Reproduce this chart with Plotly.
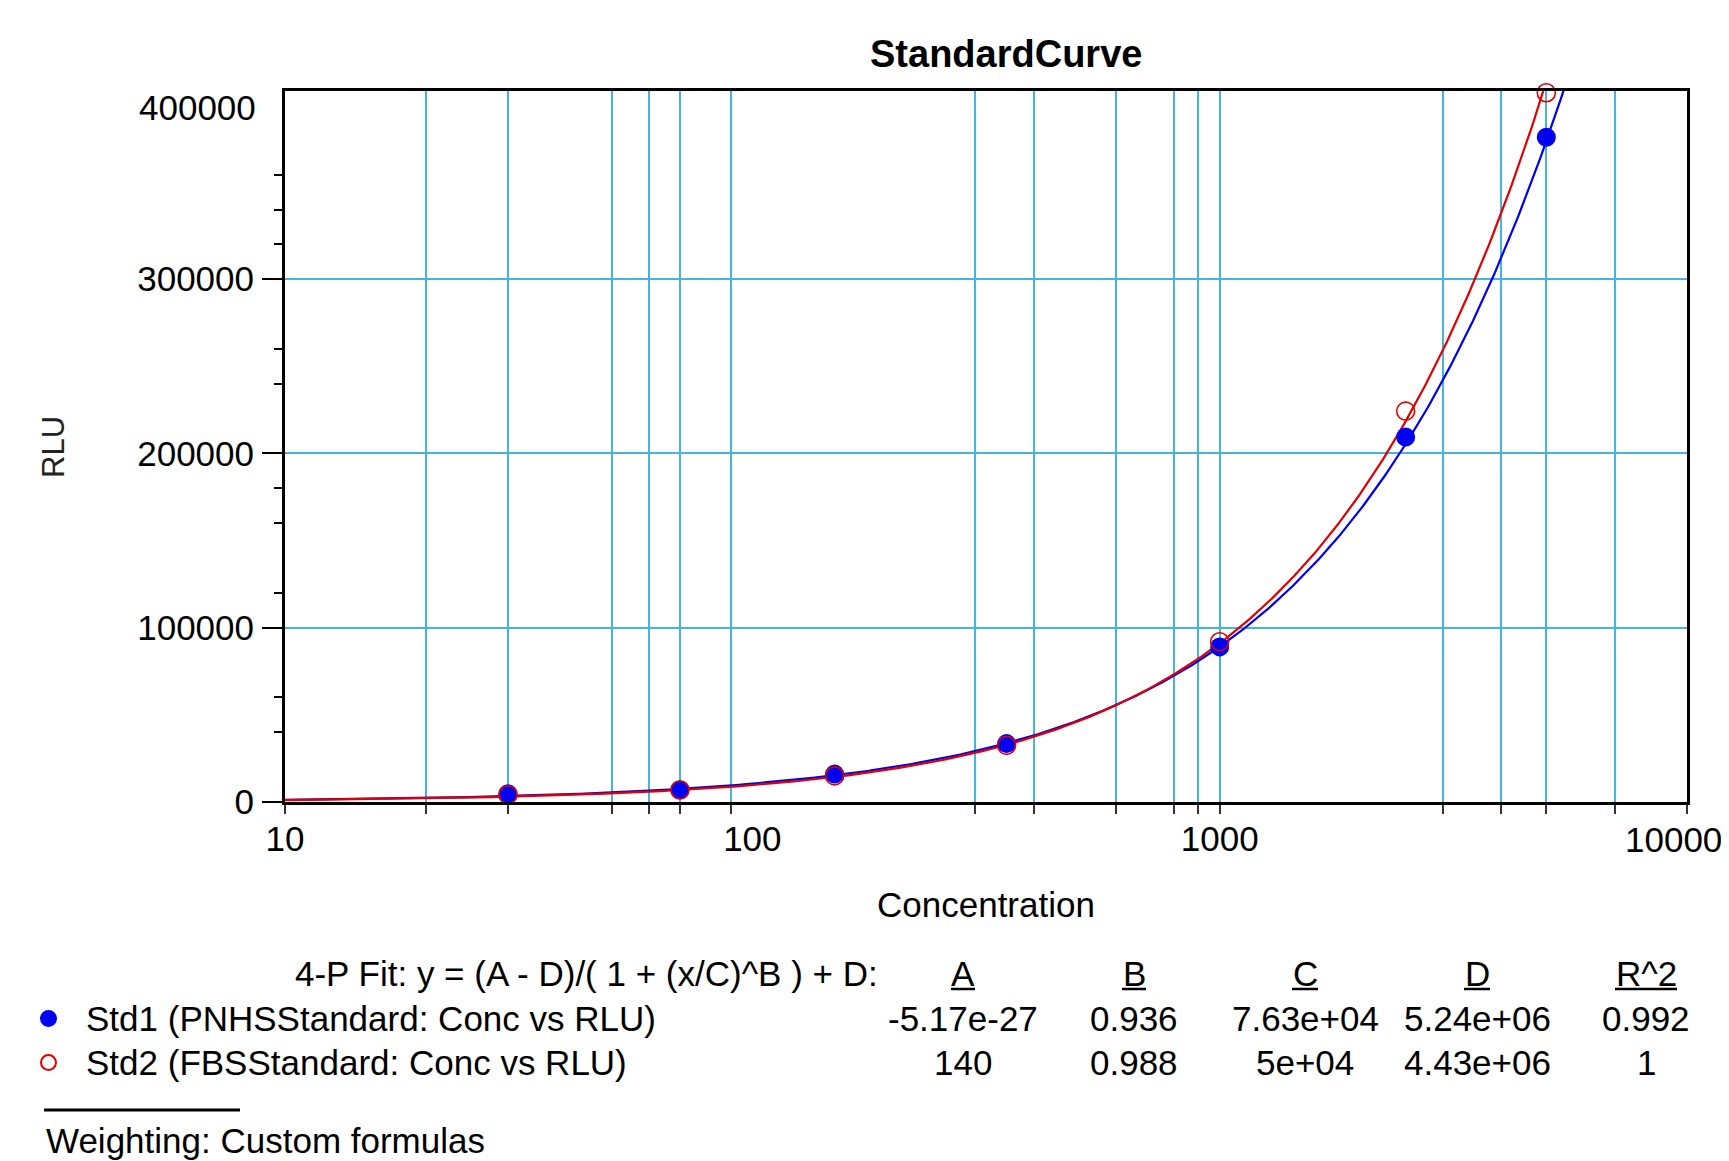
import numpy as np
import plotly.graph_objects as go

# ---------------- data ----------------
conc = [30, 70, 150, 350, 1000, 2500, 5000]
rlu_std1 = [4800, 7000, 16000, 33500, 89000, 209500, 381500]
rlu_std2 = [4200, 6900, 15000, 32500, 92000, 224300, 407000]

series_names = ["Std1 (PNHSStandard: Conc vs RLU)", "Std2 (FBSStandard: Conc vs RLU)"]

# 4-P fit parameters shown in the table
fit_A = [-5.17e-27, 140]
fit_B = [0.936, 0.988]
fit_C = [7.63e4, 5e4]
fit_D = [5.24e6, 4.43e6]
fit_R2 = [0.992, 1]

A_labels = ["-5.17e-27", "140"]
B_labels = ["0.936", "0.988"]
C_labels = ["7.63e+04", "5e+04"]
D_labels = ["5.24e+06", "4.43e+06"]
R2_labels = ["0.992", "1"]
header_labels = ["A", "B", "C", "D", "R^2"]
fit_formula = "4-P Fit: y = (A - D)/( 1 + (x/C)^B ) + D:"
weighting_text = "Weighting: Custom formulas"

x_major_ticks = [10, 100, 1000]
x_major_labels = ["10", "100", "1000"]
x_last_label = "10000"          # sits on the right window edge
x_grid_ticks = [10, 20, 30, 50, 60, 70, 90, 300, 400, 600, 800, 900, 1000, 3000, 4000, 5000, 7000, 10000]
y_major_ticks = [0, 100000, 200000, 300000]
y_major_labels = ["0", "100000", "200000", "300000"]
y_top_tick = 400000
y_top_label = "400000"
y_minor_ticks = [40000, 60000, 120000, 160000, 180000, 240000, 260000, 320000, 340000, 360000]

# ---------------- style ----------------
OFF = 8                       # page body margin
W, H = 1729 - OFF, 1161 - OFF
PL, PR, PT, PB = 285, 1687, 91, 802   # plot area in page pixels
FONT = "Arial, Liberation Sans, sans-serif"
BLUE = "#0000f0"
RED = "#e00000"
GRID = "#45b3e3"


def px(x):
    return (x - PL) / (PR - PL)


def py(y):
    return (PB - y) / (PB - PT)


fig = go.Figure()

colors = [BLUE, RED]
xs = np.logspace(1, 4, 800)
for i in range(2):
    A, B, C, D = fit_A[i], fit_B[i], fit_C[i], fit_D[i]
    ys = (A - D) / (1.0 + (xs / C) ** B) + D
    fig.add_trace(go.Scatter(x=xs, y=ys, mode="lines",
                             line=dict(color=colors[i], width=2.2),
                             showlegend=False, hoverinfo="skip"))

fig.add_trace(go.Scatter(x=conc, y=rlu_std1, mode="markers", cliponaxis=False,
                         marker=dict(symbol="circle", size=19, color=BLUE,
                                     line=dict(width=0)),
                         showlegend=False, name=series_names[0]))
fig.add_trace(go.Scatter(x=conc, y=rlu_std2, mode="markers", cliponaxis=False,
                         marker=dict(symbol="circle-open", size=18, color=RED,
                                     line=dict(width=1.6, color=RED)),
                         showlegend=False, name=series_names[1]))

fig.update_xaxes(
    type="log", range=[1, 4],
    tickvals=x_major_ticks, ticktext=x_major_labels, ticks="",
    showgrid=False, zeroline=False,
    showline=True, mirror=True, linecolor="black", linewidth=3,
    tickfont=dict(family=FONT, size=35, color="black"),
    ticklabelstandoff=4,
    minor=dict(tickvals=x_grid_ticks, ticks="outside", ticklen=9, tickwidth=1.5,
               tickcolor="#333333", showgrid=True, gridcolor=GRID, gridwidth=1.6),
)
fig.update_yaxes(
    range=[0, 408000],
    tickvals=y_major_ticks, ticktext=y_major_labels,
    ticks="outside", ticklen=20, tickwidth=1.5, tickcolor="black",
    showgrid=True, gridcolor=GRID, gridwidth=1.6, zeroline=False,
    showline=True, mirror=True, linecolor="black", linewidth=3,
    tickfont=dict(family=FONT, size=35, color="black"),
    ticklabelstandoff=1,
    minor=dict(tickvals=y_minor_ticks, ticks="outside", ticklen=8, tickwidth=1.5,
               tickcolor="black", showgrid=False),
)

ann = []
shapes = []
# top y label (no tick / grid line there in the original)
ann.append(dict(text=y_top_label, x=px(258), y=y_top_tick, yref="y", xanchor="right", yanchor="middle",
                yshift=-3, font=dict(family=FONT, size=35, color="black")))
# last x label, kept fully inside the window
ann.append(dict(text=x_last_label, x=px(1724), y=py(839), xanchor="right", yanchor="middle",
                font=dict(family=FONT, size=35, color="black")))
# title
ann.append(dict(text="<b>StandardCurve</b>", x=px(1006), y=py(54), xanchor="center", yanchor="middle",
                font=dict(family=FONT, size=38, color="black")))
# axis titles
ann.append(dict(text="Concentration", x=px(986), y=py(904), xanchor="center", yanchor="middle",
                font=dict(family=FONT, size=35, color="black")))
ann.append(dict(text="RLU", x=px(53), y=py(447), xanchor="center", yanchor="middle", textangle=-90,
                font=dict(family=FONT, size=31, color="#222222")))
# table header
ann.append(dict(text=fit_formula, x=px(880), y=py(973), xanchor="right", yanchor="middle",
                font=dict(family=FONT, size=35, color="black")))
col_x = [963, 1134, 1305, 1477, 1646]
under_half = [12, 12, 13, 13, 31]
for j, h in enumerate(header_labels):
    ann.append(dict(text=h, x=px(col_x[j]), y=py(973), xanchor="center", yanchor="middle",
                    font=dict(family=FONT, size=35, color="black")))
    shapes.append(dict(type="line", xref="paper", yref="paper",
                       x0=px(col_x[j] - under_half[j]), x1=px(col_x[j] + under_half[j]),
                       y0=py(989), y1=py(989), line=dict(color="black", width=2.5)))
row_y = [1018, 1062]
value_cols = [A_labels, B_labels, C_labels, D_labels, R2_labels]
for i in range(2):
    ann.append(dict(text=series_names[i], x=px(84), y=py(row_y[i]), xanchor="left", yanchor="middle",
                    font=dict(family=FONT, size=35, color="black")))
    for j, col in enumerate(value_cols):
        ann.append(dict(text=col[i], x=px(col_x[j]), y=py(row_y[i]), xanchor="center", yanchor="middle",
                        font=dict(family=FONT, size=35, color="black")))
# legend markers
shapes.append(dict(type="circle", xref="paper", yref="paper",
                   x0=px(40), x1=px(57), y0=py(1010), y1=py(1027),
                   fillcolor=BLUE, line=dict(width=0)))
shapes.append(dict(type="circle", xref="paper", yref="paper",
                   x0=px(41), x1=px(56), y0=py(1055), y1=py(1070),
                   fillcolor="white", line=dict(color=RED, width=2)))
# separator + weighting
shapes.append(dict(type="line", xref="paper", yref="paper", x0=px(44), x1=px(240),
                   y0=py(1110), y1=py(1110), line=dict(color="black", width=3)))
ann.append(dict(text=weighting_text, x=px(44), y=py(1140), xanchor="left", yanchor="middle",
                font=dict(family=FONT, size=35, color="black")))

for a in ann:
    a.setdefault("xref", "paper")
    a.setdefault("yref", "paper")
    a["showarrow"] = False

fig.update_layout(
    width=W, height=H, autosize=False,
    margin=dict(l=PL - OFF, r=W - (PR - OFF), t=PT - OFF, b=H - (PB - OFF), pad=0),
    paper_bgcolor="white", plot_bgcolor="white",
    annotations=ann, shapes=shapes,
    showlegend=False,
)

fig.write_html("out.html")
